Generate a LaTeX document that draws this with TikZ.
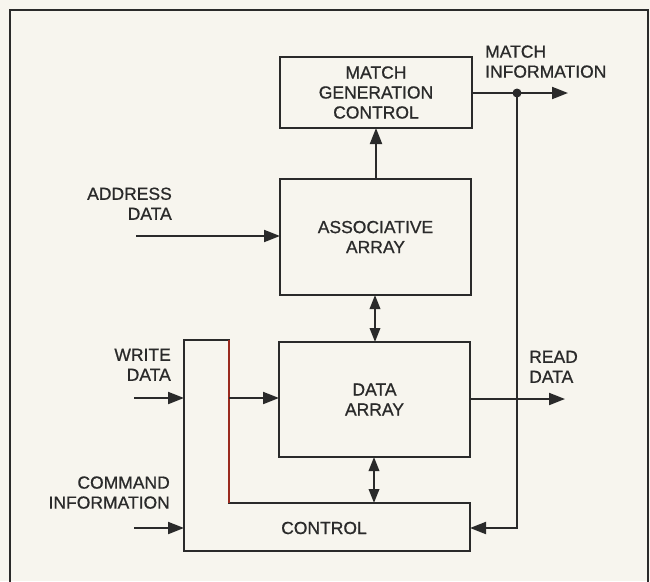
\documentclass[tikz,border=0pt]{standalone}
\usepackage{fontspec}
\setmainfont[FakeBold=0.8]{Liberation Sans}
\usetikzlibrary{arrows.meta}
\definecolor{paper}{HTML}{F7F5EE}
\definecolor{ink}{HTML}{2A2A2A}
\definecolor{redline}{HTML}{9A2A1E}
\tikzset{
  blk/.style={draw=ink, line width=2.8pt, inner sep=0pt, align=center, text=ink},
  lbl/.style={inner sep=0pt, text=ink, font=\fontsize{17.5}{20}\selectfont},
  wire/.style={draw=ink, line width=2pt},
  arr/.style={wire, -{Triangle[length=16pt,width=12pt]}},
  darr/.style={wire, {Triangle[length=14pt,width=10.5pt]}-{Triangle[length=14pt,width=10.5pt]}},
  outline/.style={draw=ink, line width=2.8pt, line join=miter}
}
\begin{document}
\begin{tikzpicture}[x=1pt,y=-1pt]
\useasboundingbox (0,0) rectangle (650,581);
\fill[paper] (0,0) rectangle (650,581);
\begin{scope}
\clip (0,0) rectangle (650,581);
\draw[ink, line width=2.4pt] (10,10) rectangle (648,600);
\end{scope}

% blocks
\node[blk, lbl, minimum width=192pt, minimum height=71pt] (match) at (376,92.5) {MATCH\\GENERATION\\CONTROL};
\node[blk, lbl, minimum width=191pt, minimum height=116pt] (assoc) at (375.5,237) {ASSOCIATIVE\\ARRAY};
\node[blk, lbl, minimum width=191pt, minimum height=115pt] (data) at (374.5,399.5) {DATA\\ARRAY};

% control L-shape
\coordinate (c1) at (184,340);
\coordinate (c2) at (229,340);
\coordinate (c3) at (229,503);
\coordinate (c4) at (470,503);
\coordinate (c5) at (470,551);
\coordinate (c6) at (184,551);
\draw[outline] (c1) -- (c2) -- (c3) -- (c4) -- (c5) -- (c6) -- cycle;
\draw[redline, line width=2.4pt] (c2) -- (c3);
\node[lbl] (control) at (324,528) {CONTROL};

% connection points
\coordinate (assocTop) at (376,179);
\coordinate (matchBot) at (376,128);
\coordinate (assocBot) at (375,295);
\coordinate (dataTop) at (375,342);
\coordinate (dataBot) at (374,457);
\coordinate (ctrlTop) at (374,503);
\coordinate (addrIn) at (136,236);
\coordinate (addrEnd) at (280,236);
\coordinate (wrIn) at (134,398);
\coordinate (wrEnd) at (184,398);
\coordinate (wrOut) at (229,398);
\coordinate (dataIn) at (279,398);
\coordinate (cmdIn) at (134,528);
\coordinate (cmdEnd) at (184,528);
\coordinate (matchOut) at (472,93);
\coordinate (dot) at (517,93);
\coordinate (matchTip) at (568,93);
\coordinate (turn) at (517,528);
\coordinate (ctrlRight) at (470,528);
\coordinate (readOut) at (470,399);
\coordinate (readTip) at (565,399);

% connectors
\draw[arr] (assocTop) -- (matchBot);
\draw[darr] (assocBot) -- (dataTop);
\draw[darr] (dataBot) -- (ctrlTop);
\draw[arr] (addrIn) -- (addrEnd);
\draw[arr] (wrIn) -- (wrEnd);
\draw[arr] (wrOut) -- (dataIn);
\draw[arr] (cmdIn) -- (cmdEnd);
\draw[arr] (matchOut) -- (matchTip);
\draw[arr] (dot) -- (turn) -- (ctrlRight);
\draw[arr] (readOut) -- (readTip);
\fill[ink] (dot) circle (4.5pt);

% labels
\node[lbl, anchor=south west, align=left] (matchinfo) at (485,78) {MATCH\\INFORMATION};
\node[lbl, anchor=south east, align=right] (addr) at (172,220) {ADDRESS\\DATA};
\node[lbl, anchor=south east, align=right] (write) at (171,381) {WRITE\\DATA};
\node[lbl, anchor=south east, align=right] (cmd) at (170,509) {COMMAND\\INFORMATION};
\node[lbl, anchor=south west, align=left] (read) at (529,383) {READ\\DATA};
\end{tikzpicture}
\end{document}
